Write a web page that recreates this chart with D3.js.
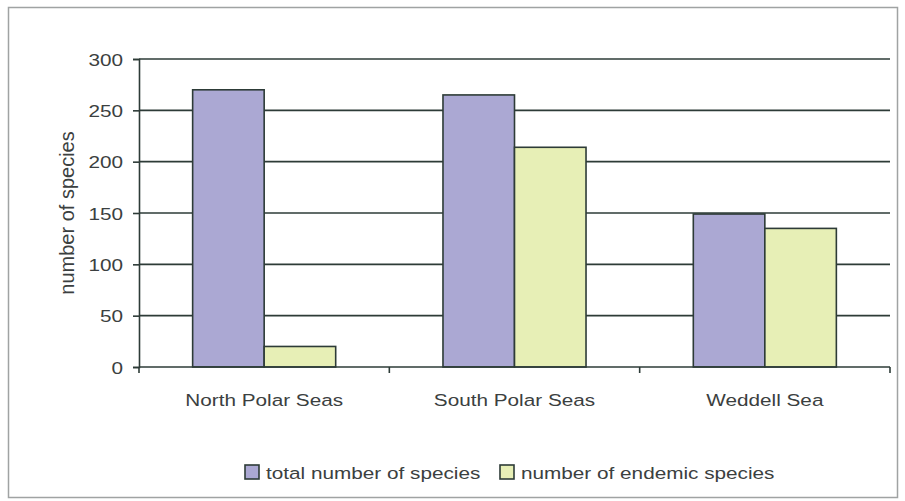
<!DOCTYPE html>
<html>
  <head>
    <meta charset="utf-8" />
    <title>Species bar chart</title>
    <script src="https://d3js.org/d3.v7.min.js"></script>
    <style>
      body {
        margin: 0;
        background: #ffffff;
      }
      text {
        font-family: "Liberation Sans", Arial, sans-serif;
        fill: #3b4040;
      }
    </style>
  </head>
  <body>

    <svg id="chart"></svg>

    <script>

      var categories = ["North Polar Seas", "South Polar Seas", "Weddell Sea"];
      var seriesNames = ["total number of species", "number of endemic species"];
      var totalSpecies = [270, 265, 149];
      var endemicSpecies = [20, 214, 135];
      var yTicks = [0, 50, 100, 150, 200, 250, 300];

      var width = 905;
      var height = 501;
      var margin = { top: 59, right: 15, bottom: 134, left: 139 };
      var stretch = 1.22; // the scanned text is wider than plain Arial
      var lineColor = "#2d3b37";
      var colors = ["#aba8d3", "#e7efb6"];

      var svg = d3.select("#chart")
        .attr("width", width)
        .attr("height", height);

      // outer frame
      svg.append("rect")
        .attr("x", 8.5)
        .attr("y", 7.5)
        .attr("width", 889)
        .attr("height", 490)
        .attr("fill", "none")
        .attr("stroke", "#a0a3a3")
        .attr("stroke-width", 1.5);

      var x0 = d3.scaleBand()
        .domain(categories)
        .range([margin.left, width - margin.right])
        .paddingInner(3 / 7)
        .paddingOuter(1.5 / 7);

      var x1 = d3.scaleBand()
        .domain(seriesNames)
        .range([0, x0.bandwidth()]);

      var y = d3.scaleLinear()
        .domain([0, 300])
        .range([height - margin.bottom, margin.top]);

      // gridlines
      svg.append("g")
        .selectAll("line")
        .data(yTicks.slice(1))
        .join("line")
        .attr("x1", margin.left)
        .attr("x2", width - margin.right)
        .attr("y1", function(d) { return y(d); })
        .attr("y2", function(d) { return y(d); })
        .attr("stroke", lineColor)
        .attr("stroke-width", 1.6);

      // bars
      var rows = categories.map(function(c, i) {
        return { category: c, values: [totalSpecies[i], endemicSpecies[i]] };
      });

      svg.append("g")
        .selectAll("g")
        .data(rows)
        .join("g")
        .attr("transform", function(d) { return "translate(" + x0(d.category) + ",0)"; })
        .selectAll("rect")
        .data(function(d) {
          return d.values.map(function(v, j) { return { name: seriesNames[j], value: v, j: j }; });
        })
        .join("rect")
        .attr("x", function(d) { return x1(d.name); })
        .attr("width", x1.bandwidth())
        .attr("y", function(d) { return y(d.value); })
        .attr("height", function(d) { return y(0) - y(d.value); })
        .attr("fill", function(d) { return colors[d.j]; })
        .attr("stroke", lineColor)
        .attr("stroke-width", 1.6);

      function stretchText(selection) {
        selection.each(function() {
          var t = d3.select(this);
          var tx = +t.attr("x") || 0;
          t.attr("x", tx / stretch)
            .attr("transform", "scale(" + stretch + ",1)");
        });
      }

      // y axis
      var yAxis = d3.axisLeft(y)
        .tickValues(yTicks)
        .tickSize(6)
        .tickPadding(10);

      var gy = svg.append("g")
        .attr("transform", "translate(" + margin.left + ",0)")
        .call(yAxis);
      gy.select(".domain").attr("stroke", lineColor).attr("stroke-width", 1.6);
      gy.selectAll(".tick line").attr("stroke", lineColor).attr("stroke-width", 1.6);
      gy.selectAll(".tick text")
        .attr("font-size", 17)
        .attr("fill", "#3b4040")
        .attr("dy", "0.36em")
        .call(stretchText);

      // x axis: labels centered, tick marks between categories
      var xAxis = d3.axisBottom(x0).tickSize(0).tickPadding(27);
      var gx = svg.append("g")
        .attr("transform", "translate(0," + y(0) + ")")
        .call(xAxis);
      gx.select(".domain").remove();
      gx.selectAll(".tick text")
        .attr("font-size", 17)
        .attr("fill", "#3b4040")
        .call(stretchText);

      svg.append("line")
        .attr("x1", margin.left)
        .attr("x2", width - margin.right)
        .attr("y1", y(0))
        .attr("y2", y(0))
        .attr("stroke", lineColor)
        .attr("stroke-width", 1.6);

      var step = x0.step();
      var edges = categories.map(function(c) { return x0(c) - step * x0.paddingInner() / 2; });
      edges.push(width - margin.right);
      svg.append("g")
        .selectAll("line")
        .data(edges)
        .join("line")
        .attr("x1", function(d) { return d; })
        .attr("x2", function(d) { return d; })
        .attr("y1", y(0))
        .attr("y2", y(0) + 6)
        .attr("stroke", lineColor)
        .attr("stroke-width", 1.6);

      // y axis title
      svg.append("text")
        .attr("transform", "translate(74," + ((y(0) + y(300)) / 2) + ") rotate(-90)")
        .attr("text-anchor", "middle")
        .attr("font-size", 20)
        .text("number of species");

      // legend
      var legendX = [245, 500];
      var legend = svg.append("g")
        .selectAll("g")
        .data(seriesNames)
        .join("g")
        .attr("transform", function(d, i) { return "translate(" + legendX[i] + ",465)"; });

      legend.append("rect")
        .attr("width", 14)
        .attr("height", 14)
        .attr("fill", function(d, i) { return colors[i]; })
        .attr("stroke", lineColor)
        .attr("stroke-width", 1.6);

      legend.append("text")
        .attr("x", 21)
        .attr("y", 14)
        .attr("font-size", 17)
        .text(function(d) { return d; })
        .call(stretchText);

    </script>
  </body>
</html>
